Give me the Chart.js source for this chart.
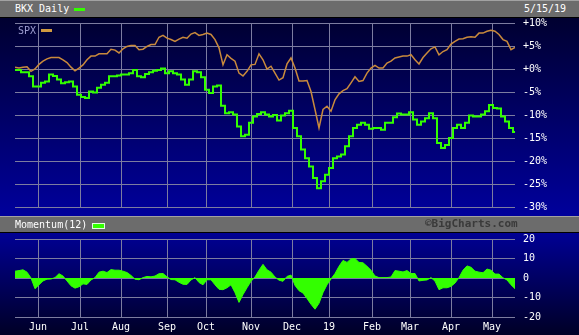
<!DOCTYPE html>
<html>
<head>
<meta charset="utf-8">
<script src="https://cdn.jsdelivr.net/npm/chart.js@4.4.1/dist/chart.umd.min.js"></script>
<style>
  body { margin: 0; background: #000; }
  #wrap { position: relative; width: 579px; height: 335px; overflow: hidden; font-family: 'DejaVu Sans Mono', monospace; }
  .bar { position: absolute; left: 0; width: 579px; background: #6c6c6c; border-top: 1px solid #a2a2a2; border-bottom: 1px solid #000; box-sizing: border-box; }
  #head { top: 0; height: 18px; }
  #mbar { top: 216px; height: 17px; }
  .txt { position: absolute; color: #fff; font-size: 10px; line-height: 10px; white-space: nowrap; }
  .sw { position: absolute; }
  #topbg { position: absolute; left: 0; top: 18px; width: 579px; height: 198px; background: linear-gradient(#000030, #00009c); }
  #botbg { position: absolute; left: 0; top: 233px; width: 579px; height: 102px; background: linear-gradient(#000094, #000026); }
  canvas { position: absolute; left: 0; }
</style>
</head>
<body>
<div id="wrap">
  <div id="topbg"></div>
  <div id="botbg"></div>
  <div class="bar" id="head"></div>
  <div class="txt" style="left:15px;top:4px;">BKX Daily</div>
  <div class="sw" style="left:74px;top:8px;width:11px;height:3px;background:#33ff00;"></div>
  <div class="txt" style="left:524px;top:4px;">5/15/19</div>
  <canvas id="priceChart" width="579" height="200" style="top:17px;"></canvas>
  <div class="txt" style="left:18px;top:26px;color:#9c9cd0;">SPX</div>
  <div class="sw" style="left:41px;top:29px;width:11px;height:3px;background:#d09a40;"></div>
  <div class="bar" id="mbar"></div>
  <div class="txt" style="left:15px;top:220px;">Momentum(12)</div>
  <div class="sw" style="left:92px;top:223px;width:11px;height:4px;background:#33ff00;border:1px solid #e0ffe0;"></div>
  <div class="txt" style="left:425px;top:219px;color:#3a3a3a;font-size:11px;font-weight:bold;">&copy;BigCharts.com</div>
  <canvas id="momChart" width="579" height="103" style="top:232px;"></canvas>
</div>
<script>
// one sample every 2 trading days, 16 May 2018 .. 15 May 2019
var sampleStep = 2;

// trading-day index where each month starts, and its label
var monthDay = [11.5, 32.5, 53, 76, 95.5, 118, 138.5, 157, 178.5, 197.5, 218, 238.5];
var monthLabels = ["Jun", "Jul", "Aug", "Sep", "Oct", "Nov", "Dec", "19", "Feb", "Mar", "Apr", "May"];

// % change since start
var spx = [0.4, 0.2, 0.4, 0.5, -0.5, 0.0, 1.0, 1.7, 2.2, 2.5, 2.5, 2.5, 2.0, 1.4, 0.4, -0.4,
    0.2, 0.9, 2.0, 2.8, 2.8, 3.3, 3.3, 3.3, 4.3, 4.1, 3.5, 4.4, 4.9, 5.1, 5.1, 4.2,
    4.3, 4.9, 5.3, 5.3, 6.9, 7.3, 6.7, 6.4, 6.0, 6.5, 6.9, 6.7, 7.6, 7.9, 7.3, 7.5,
    7.8, 7.5, 6.4, 4.6, 0.9, 3.1, 2.3, 1.7, -0.9, -1.5, -0.5, 0.9, 1.0, 3.3, 2.0, 0.0,
    0.6, -0.9, -2.4, -1.9, 1.1, 2.4, 0.2, -2.6, -2.6, -2.5, -4.9, -8.8, -12.8, -8.8, -8.1, -9.2,
    -6.7, -5.4, -4.7, -4.3, -3.0, -1.7, -2.7, -2.5, -0.9, 0.2, 0.8, 0.2, 0.2, 1.3, 1.7, 2.4,
    2.6, 2.8, 2.8, 3.1, 2.0, 1.1, 2.5, 3.5, 4.4, 4.8, 3.1, 3.8, 4.2, 5.4, 6.0, 6.5,
    6.6, 6.9, 7.0, 6.9, 7.8, 7.8, 8.2, 8.4, 8.2, 7.5, 6.4, 6.0, 4.2, 4.7];

var bkx = [-0.2, -0.2, -0.7, -0.7, -1.6, -3.8, -3.8, -3.0, -2.7, -1.2, -1.5, -2.3, -3.1, -2.9, -2.7, -3.8,
    -5.6, -6.1, -6.3, -4.9, -5.1, -4.1, -3.4, -3.0, -1.6, -1.6, -1.4, -1.2, -1.2, -0.9, -0.2, -1.6,
    -1.8, -1.1, -0.7, -0.4, -0.2, 0.1, -0.9, -0.5, -0.9, -1.2, -2.3, -3.4, -2.3, -0.5, -0.7, -1.8,
    -4.5, -5.2, -3.8, -3.6, -8.0, -9.6, -9.4, -9.9, -12.5, -14.6, -14.3, -11.7, -10.3, -9.8, -9.4, -9.9,
    -10.3, -10.0, -11.2, -10.1, -9.6, -9.1, -12.8, -14.6, -17.5, -19.4, -21.2, -23.7, -25.9, -24.4, -23.0, -21.5,
    -19.4, -19.0, -18.6, -16.8, -14.6, -12.8, -12.1, -11.7, -12.1, -13.0, -12.8, -12.8, -13.2, -11.7, -11.7, -10.5,
    -9.7, -9.9, -9.9, -9.4, -11.0, -12.1, -11.4, -10.7, -9.6, -10.7, -16.1, -17.2, -16.5, -15.0, -12.8, -12.1,
    -12.8, -11.7, -10.1, -10.3, -10.3, -9.9, -9.2, -7.8, -8.5, -8.6, -10.3, -11.4, -12.8, -13.7];

var momentum = [3.5, 3.8, 4.2, 3.0, 0.0, -5.5, -3.5, -1.5, -0.6, -0.5, 0.2, 2.2, 1.0, -1.5, -4.0, -5.2,
    -4.5, -3.0, -3.3, -1.0, 0.2, 3.0, 3.5, 2.8, 4.3, 4.0, 4.0, 3.5, 2.8, 1.3, -0.6, -0.9,
    0.2, 0.8, 0.6, 1.0, 2.2, 2.3, 0.6, -0.8, -0.9, -2.2, -3.2, -3.3, -1.0, 0.2, -2.3, -3.5,
    -0.9, -0.9, -3.5, -5.8, -6.0, -5.0, -3.5, -7.5, -12.5, -8.5, -5.0, -1.7, 0.5, 4.0, 7.0, 4.2,
    3.0, 0.5, -1.1, -1.7, 0.8, 1.5, -3.8, -6.5, -7.7, -10.5, -13.5, -16.0, -13.0, -7.5, -3.5, -0.5,
    2.3, 6.0, 9.0, 8.0, 9.8, 10.0, 8.0, 7.8, 6.0, 4.0, 1.0, 0.2, 0.2, 0.2, 0.5, 3.8,
    3.5, 3.1, 3.8, 2.3, 2.3, -1.5, -1.2, -1.0, 0.2, -1.6, -6.0, -5.0, -5.0, -4.3, -2.6, 0.2,
    4.0, 6.2, 5.5, 3.5, 3.0, 2.7, 4.6, 4.0, 2.0, 2.0, 0.1, -1.0, -3.5, -5.5];

var gridColor = '#7c7ca0';
var tickFont = { family: 'DejaVu Sans Mono', size: 10 };

function toPoints(arr) {
    return arr.map(function (v, i) { return { x: i * sampleStep, y: v }; });
}

function monthTicks(scale) {
    scale.ticks = monthDay.map(function (d) { return { value: d }; });
}

// fixed axis sizes so the plot boxes line up with the panels
function fixWidth(w) {
    return function (s) { s.width = w; s.paddingTop = 0; s.paddingBottom = 0; };
}
function fixHeight(h) {
    return function (s) { s.height = h; s.paddingLeft = 0; s.paddingRight = 0; };
}

function getPriceChart() {
    var config = {
        type: 'line',
        data: {
            datasets: [{
                label: 'SPX',
                data: toPoints(spx),
                borderColor: '#c98a3c',
                borderWidth: 1.5,
                pointRadius: 0
            }, {
                label: 'BKX Daily',
                data: toPoints(bkx),
                borderColor: '#33ff00',
                borderWidth: 2,
                stepped: 'middle',
                pointRadius: 0
            }]
        },
        options: {
            responsive: false,
            animation: false,
            layout: { padding: { left: 15, top: 6, right: 0, bottom: 10 } },
            plugins: { legend: { display: false }, tooltip: { enabled: false } },
            scales: {
                x: {
                    type: 'linear', min: 0, max: 250,
                    afterBuildTicks: monthTicks,
                    afterFit: fixHeight(0),
                    ticks: { display: false },
                    grid: { color: gridColor, drawTicks: false },
                    border: { display: false }
                },
                y: {
                    position: 'right', min: -30, max: 10,
                    afterFit: fixWidth(64),
                    ticks: {
                        stepSize: 5, color: '#fff', font: tickFont, padding: 8,
                        callback: function (v) { return (v >= 0 ? '+' : '') + v + '%'; }
                    },
                    grid: { color: gridColor, drawTicks: false },
                    border: { display: false }
                }
            }
        }
    };
    return config;
}

function getMomentumChart() {
    var config = {
        type: 'line',
        data: {
            datasets: [{
                label: 'Momentum(12)',
                data: toPoints(momentum),
                borderColor: '#33ff00',
                backgroundColor: '#33ff00',
                borderWidth: 1,
                fill: 'origin',
                pointRadius: 0
            }]
        },
        options: {
            responsive: false,
            animation: false,
            layout: { padding: { left: 15, top: 7, right: 0, bottom: 0 } },
            plugins: { legend: { display: false }, tooltip: { enabled: false } },
            scales: {
                x: {
                    type: 'linear', min: 0, max: 250,
                    afterBuildTicks: monthTicks,
                    afterFit: fixHeight(18),
                    ticks: {
                        color: '#fff', font: tickFont, padding: 4, maxRotation: 0, autoSkip: false,
                        callback: function (v, i) { return monthLabels[i]; }
                    },
                    grid: { color: gridColor, drawTicks: false },
                    border: { display: false }
                },
                y: {
                    position: 'right', min: -20, max: 20,
                    afterFit: fixWidth(64),
                    ticks: { stepSize: 10, color: '#fff', font: tickFont, padding: 8 },
                    grid: { color: gridColor, drawTicks: false },
                    border: { display: false }
                }
            }
        }
    };
    return config;
}

new Chart(document.getElementById('priceChart').getContext('2d'), getPriceChart());
new Chart(document.getElementById('momChart').getContext('2d'), getMomentumChart());
</script>
</body>
</html>
